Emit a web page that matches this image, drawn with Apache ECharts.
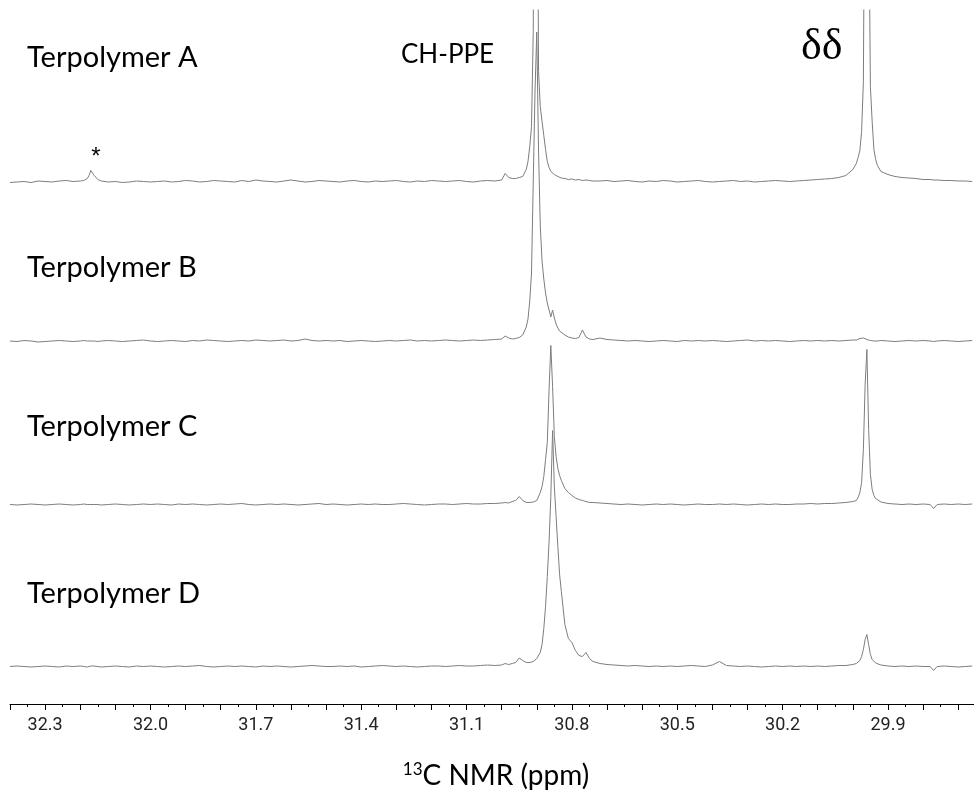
<!DOCTYPE html>
<html>
<head>
<meta charset="utf-8">
<script src="https://cdn.jsdelivr.net/npm/echarts@6/dist/echarts.min.js"></script>
<style>html,body{margin:0;padding:0;background:#fff}#main{width:974px;height:799px}</style>
</head>
<body>
<div id="main"></div>
<script>
// chemical shift (ppm) of each sample point, shared by the four spectra
var ppm = [
  32.40, 32.38, 32.36, 32.34, 32.32, 32.30, 32.28, 32.26, 32.24, 32.22, 32.20,
  32.19, 32.18, 32.175, 32.17, 32.165, 32.16, 32.15, 32.14,
  32.12, 32.10, 32.08, 32.06, 32.04, 32.02, 32.00, 31.98,
  31.96, 31.94, 31.92, 31.90, 31.88, 31.86, 31.84, 31.82,
  31.80, 31.78, 31.76, 31.74, 31.72, 31.70, 31.68, 31.66,
  31.64, 31.62, 31.60, 31.58, 31.56, 31.54, 31.52, 31.50,
  31.48, 31.46, 31.44, 31.42, 31.40, 31.38, 31.36, 31.34,
  31.32, 31.30, 31.28, 31.26, 31.24, 31.22, 31.20, 31.18,
  31.16, 31.14, 31.12, 31.10, 31.08, 31.06, 31.04, 31.02,
  31.00, 30.99, 30.98, 30.97, 30.96, 30.95, 30.94, 30.93,
  30.925, 30.92, 30.915, 30.91, 30.905, 30.90, 30.895, 30.89, 30.885, 30.88,
  30.875, 30.87, 30.865, 30.86, 30.855, 30.85, 30.845, 30.84, 30.835,
  30.83, 30.82, 30.81, 30.80, 30.79, 30.78, 30.77, 30.76, 30.75, 30.74,
  30.72, 30.70, 30.68, 30.66, 30.64, 30.62, 30.60, 30.58,
  30.56, 30.54, 30.52, 30.50, 30.48, 30.46, 30.44, 30.42,
  30.40, 30.38, 30.36, 30.34, 30.32, 30.30, 30.28, 30.26,
  30.24, 30.22, 30.20, 30.18, 30.16, 30.14, 30.12, 30.10,
  30.08, 30.06, 30.04, 30.02, 30.00,
  29.99, 29.985, 29.98, 29.975, 29.97, 29.965, 29.96, 29.955, 29.95, 29.945, 29.94, 29.935, 29.93,
  29.92, 29.90, 29.88, 29.86, 29.84, 29.82, 29.80, 29.78, 29.77, 29.76, 29.74, 29.72, 29.70, 29.68, 29.66
];

// intensities above each baseline (same order as ppm)
var specA = [
  -1, -0.5, 0, -1, 0.5, 0, -0.5, 0.5, 1, 0, 0.5,
  1, 3, 6, 11, 12, 6, 2, 0.5,
  -0.5, 0, -1, -0.5, 0.5, 0, -0.5, 0,
  0.5, -0.5, 0, 1, 0.5, -0.5, 0, 1,
  0.5, 0, -0.5, 1, 0, 1.5, 0.5, 0,
  -0.5, 0.5, 1.5, 0.5, -0.5, 0, 1, 0.5,
  0, -0.5, 0.5, 1, 0, -0.5, 0.5, 0,
  0.5, 1, 0, -0.5, 0.5, 0, 1, 0.5,
  0, 0.5, 1, 0, -0.5, 0.5, 1, 0.5,
  1.5, 8, 4, 3, 3, 4, 5, 12,
  20, 35, 55, 150, 900, 500, 110, 75, 60, 46,
  32, 20, 14, 10, 8, 7, 6, 5, 4,
  3.5, 3, 2, 2.5, 1.5, 2, 1, 1.5, 1, 0.5,
  0.5, 1, 0, 0.5, 1, 0, -0.5, 0.5,
  0, 1, 0.5, -0.5, 0, 0.5, 1, 0,
  -0.5, 0, 0.5, 1, 0, 0.5, -0.5, 0,
  0.5, 1, 0.5, 0, 0.5, 1, 1.5, 2,
  2.5, 3, 4, 6, 12,
  18, 24, 31, 50, 100, 400, 900, 300, 95, 60, 32, 22, 16,
  10, 7, 5, 4, 3.5, 3, 2, 2, 1.5, 1.5, 1, 1, 0.5, 0.5, 0
];
var specB = [
  0, -0.5, 0.5, 0, -1, -0.5, 0, 0.5, 0, -0.5, 0,
  0.5, 0, -0.5, 0, 0.5, 0, -0.5, 0,
  0.5, 0, -0.5, 0, 0.5, 1, 0, -0.5,
  0, 0.5, 0, -0.5, 0.5, 0, 1, 0.5,
  0, -0.5, 0, 0.5, 0, 1, 0.5, 0,
  0.5, 1, 0, 0.5, 2, 0.5, 0, 0.5,
  0, 0.5, -0.5, 0, 0.5, 0, -0.5, 0,
  0.5, 0, 0.5, 1, 0, 0.5, 0, 0.5,
  1, 0.5, 0, 0.5, 1, 0.5, 1, 1.5,
  2, 5, 3, 2, 2.5, 3.5, 6, 14,
  22, 40, 68, 160, 250, 309, 190, 115, 80, 62,
  48, 38, 31, 24, 31, 23, 17, 13, 10,
  8, 6, 4, 3, 2.5, 3.5, 11, 4, 2, 1.5,
  3, 1.5, 1, 0.5, 0, 0.5, 0, -0.5,
  0, 0.5, 0, -0.5, 0.5, 0, 0.5, 0,
  0.5, 0, -0.5, 0, 0.5, 1, 0, 0.5,
  0, 0.5, 0, -0.5, 0, 0.5, 0, 0.5,
  0, 0.5, 0, 0.5, 1,
  1, 1.5, 2.5, 4, 3, 2, 1.5, 1, 0.5, 0.5, 0, 0.5, 0,
  0.5, 0, -0.5, 0, 0.5, 0, 0.5, 0, -0.5, 0, 0.5, 0, -0.5, 0, 0.5
];
var specC = [
  0, -0.5, 0, 0.5, 0, -0.5, 0, 0.5, 0, -0.5, 0,
  0.5, 0, -0.5, 0, 0.5, 0, 0, -0.5,
  0, 0.5, 0, -0.5, 0, 0.5, 0, 0.5,
  0, -0.5, 0.5, 0, 0.5, 0, -0.5, 0,
  0.5, 0, 0.5, 1, 0, -0.5, 0, 0.5,
  0, 0.5, 0, -0.5, 0, 0.5, 1, 0,
  0.5, 0, -0.5, 0, 0.5, 0, 0.5, 0,
  0, 0.5, 1, 0.5, 0, -0.5, 0, 0.5,
  0.5, 0, 0.5, 1, 0.5, 0.5, 1, 1,
  1.5, 2, 1.5, 3, 4, 8, 4, 2,
  2, 2, 2.5, 2.5, 3, 4, 6, 12, 18, 28,
  45, 62, 115, 159, 118, 68, 48, 36, 29,
  24, 16, 12, 9, 6.5, 5, 4, 3, 2, 2,
  1.5, 1, 0.5, 0, 0.5, 0, -0.5, 0,
  0.5, 0, 0.5, 0, -0.5, 0, 0.5, 0,
  0, 0.5, 0, 0.5, 0, -0.5, 0, 0.5,
  0, 0.5, 0, 0, 0.5, 0.5, 1, 0.5,
  1, 1, 1.5, 2, 3,
  4, 7, 12, 22, 55, 120, 155, 75, 30, 15, 9, 6, 4,
  2.5, 1, 0.5, 0, 0.5, 0, 0.5, 0, -4, 0, 0.5, 0, 0.5, 0, 0.5
];
var specD = [
  0, 0.5, 0, -0.5, 0, 0.5, 0, -0.5, 0.5, 0, 0.5,
  0, -0.5, 0, 0.5, 0, 0.5, 0, -0.5,
  0, 0.5, 0, -0.5, 0.5, 0, 0.5, 0,
  -0.5, 0, 0.5, 0, 0.5, 1, 0, -0.5,
  0, 0.5, 0, 0.5, 0, -0.5, 0.5, 0,
  0.5, 0, -0.5, 0, 0.5, 1, 0.5, 0,
  0, 0.5, 0, 0.5, -0.5, 0, 0.5, 1,
  0.5, 0, 0.5, 0, -0.5, 0, 0.5, 0.5,
  0, 0.5, 1, 0.5, 0.5, 1, 1.5, 1,
  1.5, 3, 2, 3, 4, 8.5, 6, 4,
  4, 4, 4.5, 5, 7, 8, 10, 14, 22, 38,
  60, 90, 125, 170, 236, 180, 150, 120, 92,
  75, 42, 28, 24, 16, 11, 10, 14, 8, 5,
  3, 2, 1.5, 1, 0.5, 1, 0.5, 0,
  0.5, 0, 0.5, 0, 0.5, 1, 0.5, 0,
  1.5, 5, 1, 0.5, 0, 0.5, 0, -0.5,
  0, 0.5, 0, 0.5, 0, 0.5, 0, 0.5,
  0, 0.5, 1, 1, 2,
  3, 4, 6, 10, 17, 27, 32, 22, 12, 7, 5, 3.5, 2.5,
  1.5, 0.5, 0, 0.5, 0, 0.5, 0, 0, -4, 0, 0.5, 0, -0.5, 0, 0.5
];

var names = ['Terpolymer A', 'Terpolymer B', 'Terpolymer C', 'Terpolymer D'];
var baseline = [522.5, 363, 199.5, 37.5];   // vertical stacking of the traces

var majorTicks = [32.4, 32.3, 32.2, 32.1, 32.0, 31.9, 31.8, 31.7, 31.6, 31.5, 31.4, 31.3, 31.2, 31.1,
  31.0, 30.9, 30.8, 30.7, 30.6, 30.5, 30.4, 30.3, 30.2, 30.1, 30.0, 29.9, 29.8, 29.7];
var minorTicks = [32.35, 32.25, 32.15, 32.05, 31.95, 31.85, 31.75, 31.65, 31.55, 31.45, 31.35, 31.25,
  31.15, 31.05, 30.95, 30.85, 30.75, 30.65, 30.55, 30.45, 30.35, 30.25, 30.15, 30.05, 29.95, 29.85, 29.75];
var tickLabels = [32.3, 32.0, 31.7, 31.4, 31.1, 30.8, 30.5, 30.2, 29.9];

var myChart = echarts.init(document.getElementById('main'));

var series = [specA, specB, specC, specD].map(function (spec, k) {
  return {
    name: names[k],
    type: 'line',
    symbol: 'none',
    clip: true,
    silent: true,
    lineStyle: {color: '#7d7d7d', width: 1},
    data: ppm.map(function (x, i) { return [x, spec[i] + baseline[k]]; })
  };
});

var textFont = 'Lato';
var labelY = [58, 268, 427, 594];

var option = {
  animation: false,
  grid: {left: 10, right: 0, top: 10, bottom: 95, containLabel: false, outerBoundsMode: 'none'},
  xAxis: [{
    type: 'value',
    inverse: true,
    min: 29.655,
    max: 32.40,
    position: 'bottom',
    axisLine: {show: true, onZero: false, lineStyle: {color: '#000', width: 1}},
    axisTick: {show: true, customValues: majorTicks, length: 6, lineStyle: {color: '#000', width: 1}},
    axisLabel: {
      customValues: tickLabels,
      formatter: function (v) { return v.toFixed(1); },
      margin: 12,
      fontFamily: 'Roboto',
      fontSize: 18,
      color: '#222'
    },
    splitLine: {show: false}
  }, {
    type: 'value',
    inverse: true,
    min: 29.655,
    max: 32.40,
    position: 'bottom',
    axisLine: {show: false, onZero: false},
    axisTick: {show: true, customValues: minorTicks, length: 3, lineStyle: {color: '#000', width: 1}},
    axisLabel: {show: false},
    splitLine: {show: false}
  }],
  yAxis: {
    type: 'value',
    min: 0,
    max: 694,
    show: false
  },
  series: series,
  graphic: names.map(function (n, k) {
    return {type: 'text', x: 27, y: labelY[k], silent: true,
      style: {text: n, fontFamily: textFont, fontSize: 29, fill: '#000', verticalAlign: 'middle'}};
  }).concat([
    {type: 'text', x: 401, y: 55, silent: true,
      style: {text: 'CH-PPE', fontFamily: textFont, fontSize: 26, fill: '#000', verticalAlign: 'middle'}},
    {type: 'text', x: 801, y: 47, silent: true,
      style: {text: 'δδ', fontFamily: 'Liberation Serif', fontSize: 44, fill: '#000', verticalAlign: 'middle'}},
    {type: 'text', x: 96, y: 157, silent: true,
      style: {text: '*', fontFamily: 'Liberation Sans', fontSize: 24, fill: '#000', align: 'center', verticalAlign: 'middle'}},
    {type: 'text', x: 496, y: 776, silent: true,
      style: {
        text: '{sup|13}C NMR (ppm)',
        fontFamily: textFont, fontSize: 28, fill: '#000',
        align: 'center', verticalAlign: 'middle',
        rich: {sup: {fontFamily: textFont, fontSize: 17, fill: '#000', verticalAlign: 'top', lineHeight: 30}}
      }}
  ])
};

myChart.setOption(option);
</script>
</body>
</html>
